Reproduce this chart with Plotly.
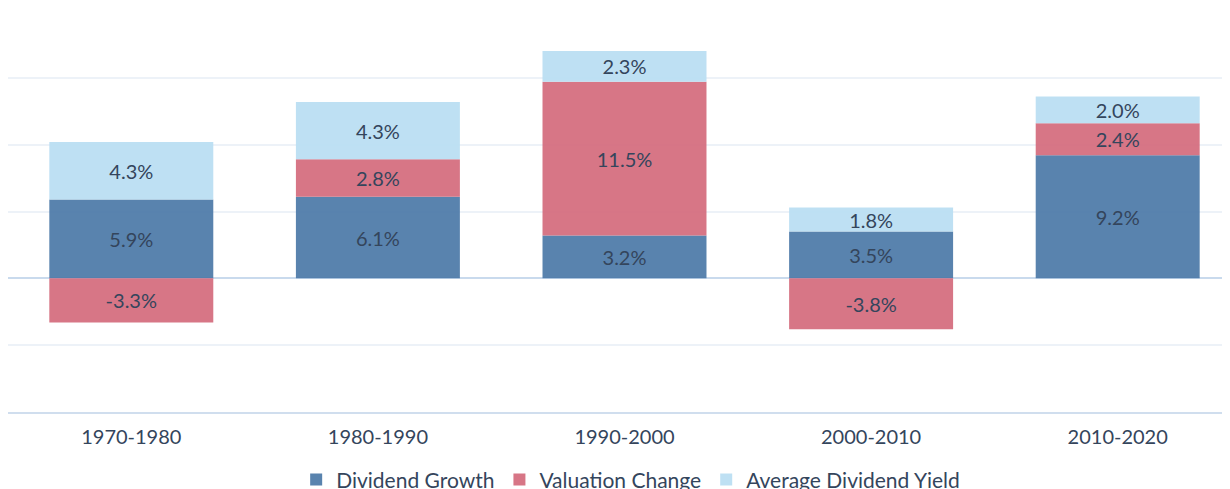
import plotly.graph_objects as go

categories = ["1970-1980", "1980-1990", "1990-2000", "2000-2010", "2010-2020"]
dividend_growth = [5.9, 6.1, 3.2, 3.5, 9.2]
valuation_change = [-3.3, 2.8, 11.5, -3.8, 2.4]
avg_dividend_yield = [4.3, 4.3, 2.3, 1.8, 2.0]

series = [
    ("Dividend Growth", dividend_growth, "rgba(75,120,167,0.92)"),
    ("Valuation Change", valuation_change, "rgba(212,106,124,0.92)"),
    ("Average Dividend Yield", avg_dividend_yield, "rgba(186,222,242,0.95)"),
]

text_color = "#34455c"
font_family = "Lato, 'Open Sans', sans-serif"

fig = go.Figure()
for name, vals, color in series:
    fig.add_trace(go.Bar(
        x=categories, y=vals, name=name,
        marker=dict(color=color, line=dict(width=0)),
        text=[f"{v:.1f}%" for v in vals],
        textposition="inside", insidetextanchor="middle",
        textangle=0, constraintext="none",
        textfont=dict(family=font_family, size=20, color=text_color),
        width=0.665,
    ))

fig.add_shape(type="line", xref="paper", yref="y", x0=0, x1=1, y0=-5, y1=-5,
              line=dict(color="#d6e3f1", width=1.5), layer="below")

fig.update_layout(
    width=1240, height=489,
    barmode="relative",
    plot_bgcolor="white", paper_bgcolor="white",
    margin=dict(l=0, r=7, t=3, b=85, autoexpand=False),
    font=dict(family=font_family, color=text_color),
    showlegend=True,
    legend=dict(orientation="h", x=0.505, xanchor="center", y=-0.118, yanchor="top",
                font=dict(size=21, color=text_color), itemwidth=30,
                traceorder="normal", itemclick=False),
    xaxis=dict(range=[-0.5, 4.5], showgrid=False, zeroline=False,
               showline=True, linecolor="#d0deee", linewidth=1.5,
               ticks="", tickfont=dict(size=20, color=text_color),
               ticklabelstandoff=6, fixedrange=True, automargin=False),
    yaxis=dict(range=[-10, 20], dtick=5, showticklabels=False,
               gridcolor="#edf2f8", gridwidth=1.5,
               zeroline=True, zerolinecolor="#c9daed", zerolinewidth=1.5,
               layer="above traces", fixedrange=True, automargin=False),
)

fig.write_html("out.html")
